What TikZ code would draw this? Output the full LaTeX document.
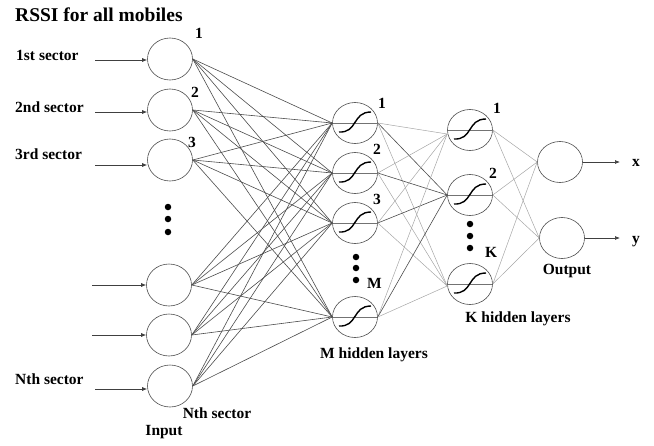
\documentclass[tikz,border=0pt]{standalone}
\usepackage{fontspec}
\setmainfont{Liberation Serif}
\usetikzlibrary{shapes.geometric,arrows.meta}
\begin{document}
\begin{tikzpicture}[x=1pt,y=-1pt,
  lbl/.style={font=\bfseries\fontsize{15.5}{18}\selectfont, inner sep=0pt},
  ttl/.style={font=\bfseries\fontsize{19.5}{22}\selectfont, inner sep=0pt},
  neuron/.style={ellipse, draw=black!70, line width=0.6pt, minimum width=45pt, minimum height=42pt, inner sep=0pt},
  hid/.style={neuron, minimum height=41pt, path picture={
      \begin{scope}[x=1pt,y=-1pt,shift={(path picture bounding box.center)}]
        \draw[black!55, line width=0.8pt] (-25,0) -- (25,0);
        \draw[black, line width=1.4pt] (-16,9) .. controls (3,10) and (-3,-11) .. (16,-11);
      \end{scope}}},
  dotn/.style={circle, fill=black, inner sep=0pt, minimum size=6.5pt},
  arr/.style={-{Latex[length=5pt,width=4pt]}, draw=black!75, line width=0.7pt},
  wA/.style={draw=black!70, line width=0.6pt},
  wB/.style={draw=black!35, line width=0.5pt},
  wC/.style={draw=black!70, line width=0.6pt},
  wD/.style={draw=black!35, line width=0.5pt}
]
\useasboundingbox (0,0) rectangle (654,445);

% title
\node[ttl, anchor=base west] (title) at (15,21) {RSSI for all mobiles};

% input layer
\node[neuron] (i1) at (170,59) {};
\node[neuron] (i2) at (170,110) {};
\node[neuron] (i3) at (170,160) {};
\node[neuron] (i4) at (169,285) {};
\node[neuron] (i5) at (169,335) {};
\node[neuron] (i6) at (170,386) {};
\node[dotn] (id1) at (168,207) {};
\node[dotn] (id2) at (168,219) {};
\node[dotn] (id3) at (168,232) {};

\node[lbl, anchor=base west] (n1) at (195,38) {1};
\node[lbl, anchor=base west] (n2) at (191,97) {2};
\node[lbl, anchor=base west] (n3) at (188,147) {3};

\node[lbl, anchor=base west] (s1) at (16,60) {1st sector};
\node[lbl, anchor=base west] (s2) at (15,112) {2nd sector};
\node[lbl, anchor=base west] (s3) at (15,159) {3rd sector};
\node[lbl, anchor=base west] (sN) at (15,384) {Nth sector};
\node[lbl, anchor=base] (sN2) at (217,418) {Nth sector};
\node[lbl, anchor=base] (inp) at (164,435) {Input};

\draw[arr] ([xshift=-52pt,yshift=-1pt]i1.west) -- ([yshift=-1pt]i1.west);
\draw[arr] ([xshift=-52pt,yshift=-2pt]i2.west) -- ([yshift=-2pt]i2.west);
\draw[arr] ([xshift=-52pt,yshift=-5pt]i3.west) -- ([yshift=-5pt]i3.west);
\draw[arr] ([xshift=-54pt]i4.west) -- (i4.west);
\draw[arr] ([xshift=-54pt]i5.west) -- (i5.west);
\draw[arr] ([xshift=-52pt,yshift=-3pt]i6.west) -- ([yshift=-3pt]i6.west);

% M hidden layer
\node[hid] (m1) at (355,123) {};
\node[hid] (m2) at (355,173) {};
\node[hid] (m3) at (355,223) {};
\node[hid] (m4) at (355,317) {};
\node[dotn] (md1) at (356,257) {};
\node[dotn] (md2) at (356,268) {};
\node[dotn] (md3) at (356,280) {};
\node[lbl, anchor=base west] (mn1) at (378,108) {1};
\node[lbl, anchor=base west] (mn2) at (373,154) {2};
\node[lbl, anchor=base west] (mn3) at (373,204) {3};
\node[lbl, anchor=base west] (mnM) at (367,288) {M};
\node[lbl, anchor=base] (mlab) at (374,358) {M hidden layers};

% K hidden layer
\node[hid] (k1) at (470,130) {};
\node[hid] (k2) at (470,195) {};
\node[hid] (k3) at (470,284) {};
\node[dotn] (kd1) at (470,224) {};
\node[dotn] (kd2) at (470,236) {};
\node[dotn] (kd3) at (470,248) {};
\node[lbl, anchor=base west] (kn1) at (493,113) {1};
\node[lbl, anchor=base west] (kn2) at (489,178) {2};
\node[lbl, anchor=base west] (knK) at (485,257) {K};
\node[lbl, anchor=base] (klab) at (518,322) {K hidden layers};

% output layer
\node[neuron, minimum height=41pt] (o1) at (560,162) {};
\node[neuron, minimum height=41pt] (o2) at (562,238) {};
\node[lbl, anchor=base] (olab) at (567,274) {Output};
\coordinate (ox) at (620,162);
\coordinate (oy) at (620,238);
\draw[arr] (o1.east) -- (ox);
\draw[arr] (o2.east) -- (oy);
\node[lbl, anchor=base west] (xl) at (632,166) {x};
\node[lbl, anchor=base west] (yl) at (632,243) {y};

% connections
\foreach \a in {i1,i2,i3,i4,i5,i6}
  \foreach \b in {m1,m2,m3,m4}
    \draw[wA] (\a.east) -- (\b.west);
\foreach \a in {m1,m2,m3,m4} {
  \draw[wB] (\a.east) -- ([yshift=-4pt]k1.west);
  \draw[wC] (\a.east) -- (k2.west);
  \draw[wB] (\a.east) -- ([yshift=-2pt]k3.west);
}
\foreach \a in {k1,k2,k3}
  \foreach \b in {o1,o2}
    \draw[wD] (\a.east) -- (\b.west);
\end{tikzpicture}
\end{document}
